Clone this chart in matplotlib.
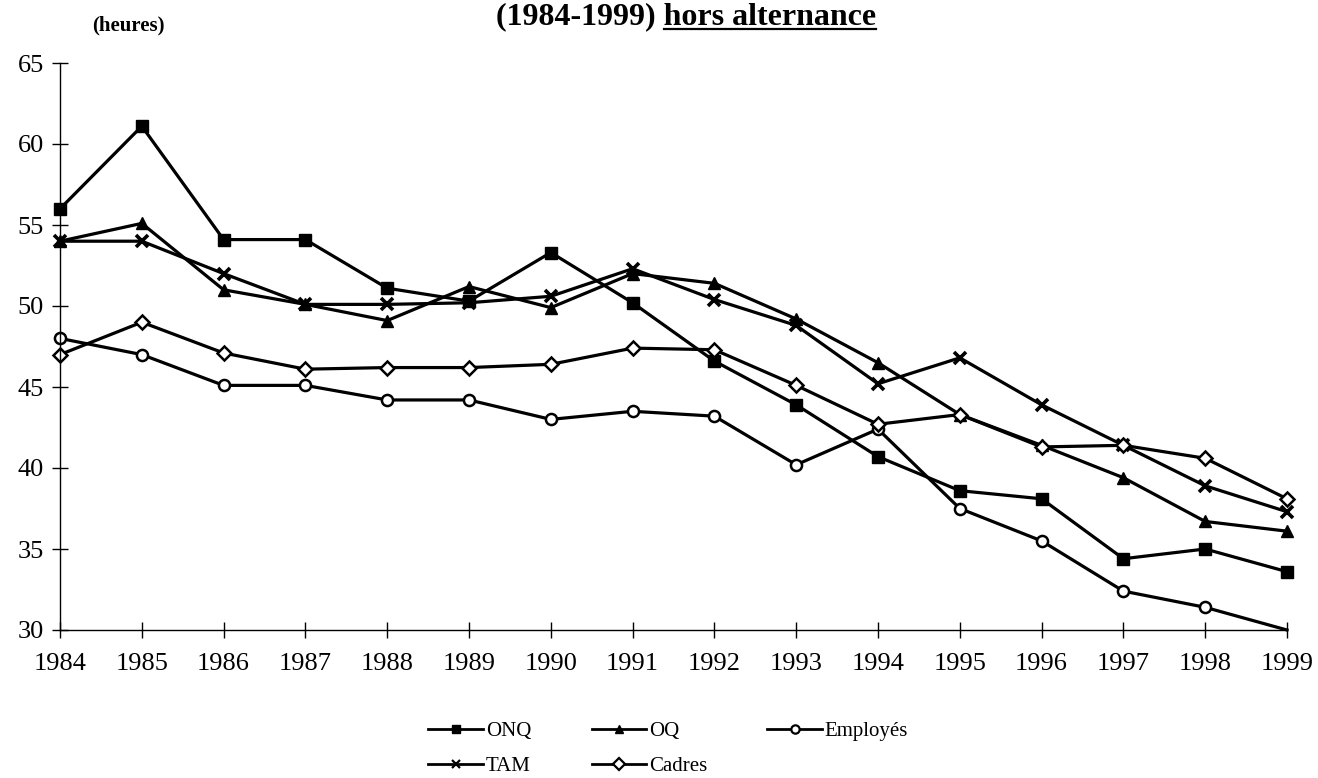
import matplotlib
matplotlib.use("Agg")
import matplotlib.pyplot as plt
from matplotlib.lines import Line2D

years = list(range(1984, 2000))
onq = [56.0, 61.1, 54.1, 54.1, 51.1, 50.3, 53.3, 50.2, 46.6, 43.9, 40.7, 38.6, 38.1, 34.4, 35.0, 33.6]
oq = [54.0, 55.1, 51.0, 50.1, 49.1, 51.2, 49.9, 52.0, 51.4, 49.2, 46.5, 43.3, 41.4, 39.4, 36.7, 36.1]
employes = [48.0, 47.0, 45.1, 45.1, 44.2, 44.2, 43.0, 43.5, 43.2, 40.2, 42.4, 37.5, 35.5, 32.4, 31.4, 30.0]
tam = [54.0, 54.0, 52.0, 50.1, 50.1, 50.2, 50.6, 52.3, 50.4, 48.8, 45.2, 46.8, 43.9, 41.4, 38.9, 37.3]
cadres = [47.0, 49.0, 47.1, 46.1, 46.2, 46.2, 46.4, 47.4, 47.3, 45.1, 42.7, 43.3, 41.3, 41.4, 40.6, 38.1]
yticks = [30, 35, 40, 45, 50, 55, 60, 65]

plt.rcParams['font.family'] = ['Liberation Serif', 'DejaVu Serif']

W, H = 1318, 778
fig = plt.figure(figsize=(W/100, H/100), dpi=100)
ax = fig.add_axes([60/W, 1-630/H, (1287-60)/W, (630-63)/H])

lw = 2.3
styles = {
    'ONQ': dict(marker='s', ms=8, mfc='black', mec='black'),
    'OQ': dict(marker='^', ms=9, mfc='black', mec='black'),
    'Employés': dict(marker='o', ms=8, mfc='white', mec='black', mew=1.8),
    'TAM': dict(marker='x', ms=8, mec='black', mew=2.6),
    'Cadres': dict(marker='D', ms=7, mfc='white', mec='black', mew=1.8),
}
ax.plot(years, onq, color='black', lw=lw, clip_on=False, **styles['ONQ'])
ax.plot(years, oq, color='black', lw=lw, clip_on=False, **styles['OQ'])
ax.plot(years, employes, color='black', lw=lw, clip_on=False,
        markevery=slice(0, len(years) - 1), **styles['Employés'])
ax.plot(years, tam, color='black', lw=lw, clip_on=False, **styles['TAM'])
ax.plot(years, cadres, color='black', lw=lw, clip_on=False, **styles['Cadres'])

ax.set_xlim(1984, 1999)
ax.set_ylim(30, 65)
ax.set_xticks(years)
ax.set_yticks(yticks)
ax.tick_params(axis='both', direction='inout', length=11, width=1, labelsize=19, colors='black')
ax.tick_params(axis='x', pad=11)
ax.tick_params(axis='y', pad=6)
for s in ['top', 'right']:
    ax.spines[s].set_visible(False)
for s in ['left', 'bottom']:
    ax.spines[s].set_linewidth(1)

def proxy(name):
    st = dict(styles[name])
    st['ms'] = 6
    if 'mew' in st:
        st['mew'] = min(st['mew'], 1.6)
    return Line2D([], [], color='black', lw=2, label=name, **st)

order = ['ONQ', 'TAM', 'OQ', 'Cadres', 'Employés']
leg = fig.legend(handles=[proxy(n) for n in order], ncol=3, frameon=False,
                 loc='upper left', bbox_to_anchor=(418/W, 1-711/H), borderpad=0,
                 fontsize=15, handlelength=2.6, columnspacing=2.9, labelspacing=0.75,
                 handletextpad=0.15)

fig.text(92/W, 1-30/H, '(heures)', fontsize=15, fontweight='bold', va='baseline', ha='left')

tsize = 23
t_full = fig.text(496/W, 1-24/H, '(1984-1999) hors alternance', fontsize=tsize, fontweight='bold',
                  ha='left', va='baseline')
fig.canvas.draw()
r = fig.canvas.get_renderer()
bb = t_full.get_window_extent(r)
tmp = fig.text(0, 0, '(1984-1999) ', fontsize=tsize, fontweight='bold')
pw = tmp.get_window_extent(r).width
tmp.remove()
x0 = (bb.x0 + pw) / fig.bbox.width
x1 = bb.x1 / fig.bbox.width
yu = 1 - 29/H
fig.add_artist(Line2D([x0, x1], [yu, yu], color='black', lw=1.6, transform=fig.transFigure))

fig.savefig('out.png', dpi=100)
